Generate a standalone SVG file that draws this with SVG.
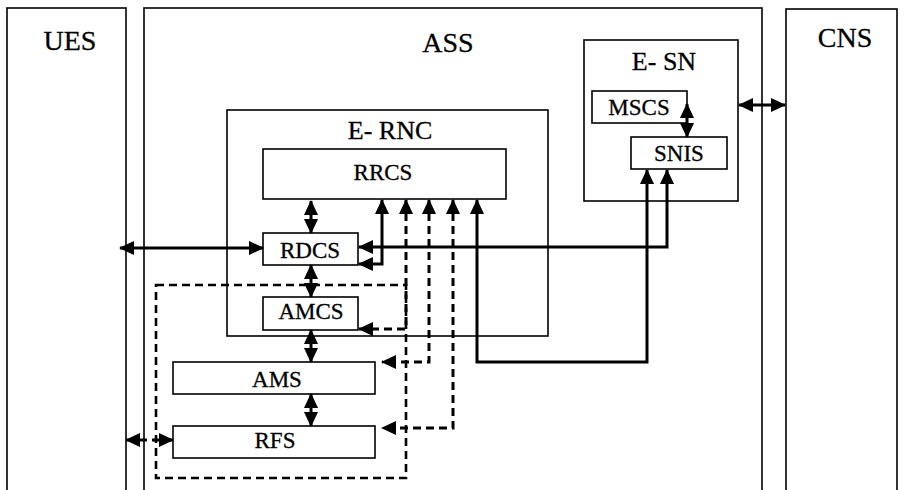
<svg xmlns="http://www.w3.org/2000/svg" width="904" height="490" viewBox="0 0 904 490">
<style>
.box{fill:none;stroke:#000;stroke-width:1.6}
.dbox{fill:none;stroke:#000;stroke-width:2.6;stroke-dasharray:8,5}
.t{font-family:"Liberation Serif","Times New Roman",serif;fill:#000;stroke:#000;stroke-width:0.3;text-anchor:middle}
.big{font-size:28px}
.mid{font-size:26px}
.sm{font-size:23px}
.c{fill:none;stroke:#000;stroke-width:3}
.d{fill:none;stroke:#000;stroke-width:3;stroke-dasharray:8,5}
.a{marker-end:url(#ah)}
.b{marker-start:url(#ah);marker-end:url(#ah)}
</style>
<defs>
<marker id="ah" markerUnits="userSpaceOnUse" markerWidth="15" markerHeight="14" refX="14" refY="7" orient="auto-start-reverse" viewBox="0 0 15 14">
<path d="M0,0 L15,7 L0,14 z" fill="#000"/>
</marker>
</defs>
<rect width="904" height="490" fill="#fff"/>
<g id="UES"><rect class="box" x="7" y="8" width="119" height="500"/><text class="t big" x="70" y="50">UES</text></g>
<g id="ASS"><rect class="box" x="144" y="8" width="618" height="500"/><text class="t big" x="448" y="52">ASS</text></g>
<g id="CNS"><rect class="box" x="786" y="9" width="111" height="500"/><text class="t big" x="845" y="47">CNS</text></g>
<g id="E-RNC"><rect class="box" x="227" y="110" width="321" height="226"/><text class="t mid" x="390" y="139">E- RNC</text></g>
<g id="RRCS"><rect class="box" x="263" y="149" width="243" height="50"/><text class="t sm" x="383" y="180">RRCS</text></g>
<g id="RDCS"><rect class="box" x="263" y="233" width="95" height="32"/><text class="t sm" x="310" y="258">RDCS</text></g>
<g id="AMCS"><rect class="box" x="263" y="297" width="95" height="33"/><text class="t sm" x="311" y="319">AMCS</text></g>
<g id="AMS"><rect class="box" x="173" y="362" width="202" height="32"/><text class="t sm" x="277" y="387">AMS</text></g>
<g id="RFS"><rect class="box" x="173" y="426" width="202" height="32"/><text class="t sm" x="275" y="448">RFS</text></g>
<g id="AM-group"><rect class="dbox" x="156" y="285" width="250" height="193"/></g>
<g id="E-SN"><rect class="box" x="584" y="40" width="154" height="161"/><text class="t mid" x="664" y="70">E- SN</text></g>
<g id="MSCS"><rect class="box" x="592" y="91" width="95" height="32"/><text class="t sm" x="639" y="115">MSCS</text></g>
<g id="SNIS"><rect class="box" x="631" y="137" width="96" height="32"/><text class="t sm" x="679" y="161">SNIS</text></g>
<g id="connectors">
<path class="c b" d="M120,248 H263"/>
<path class="c b" d="M311,201 V233"/>
<path class="c b" d="M311,265 V297"/>
<path class="c b" d="M311,330 V362"/>
<path class="c b" d="M311,394 V426"/>
<path class="d b" d="M126,440 H173"/>
<path class="c b" d="M667,170 V247 H359"/>
<path class="c a" d="M382,247 V200"/>
<path class="c a" d="M382,247 V264 H359"/>
<path class="c b" d="M647,170 V362 H477 V200"/>
<path class="d b" d="M406,200 V329 H359"/>
<path class="d b" d="M429,200 V362 H382"/>
<path class="d b" d="M453,200 V428 H382"/>
<path class="c b" d="M687,104 V137"/>
<path class="c b" d="M739,105 H785"/>
</g>
</svg>
